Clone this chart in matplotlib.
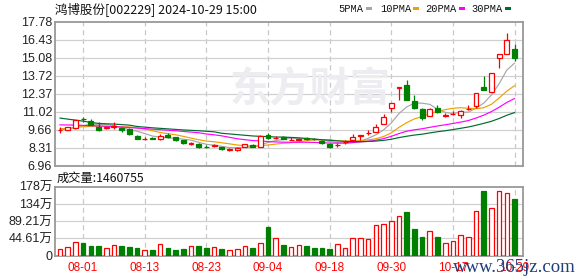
import numpy as np
import pandas as pd
import matplotlib
matplotlib.use("Agg")
import matplotlib.pyplot as plt
from matplotlib.patches import Rectangle

plt.rcParams['font.family'] = ['Liberation Sans', 'Noto Sans CJK SC', 'DejaVu Sans']

# ------------------ data ------------------ #
dates = ["07-29", "07-30", "07-31", "08-01", "08-02", "08-05", "08-06", "08-07", "08-08", "08-09",
         "08-12", "08-13", "08-14", "08-15", "08-16", "08-19", "08-20", "08-21", "08-22", "08-23",
         "08-26", "08-27", "08-28", "08-29", "08-30", "09-02", "09-03", "09-04", "09-05", "09-06",
         "09-09", "09-10", "09-11", "09-12", "09-13", "09-18", "09-19", "09-20", "09-23", "09-24",
         "09-25", "09-26", "09-27", "09-30", "10-08", "10-09", "10-10", "10-11", "10-14", "10-15",
         "10-16", "10-17", "10-18", "10-21", "10-22", "10-23", "10-24", "10-25", "10-28", "10-29"]

opens = [9.62, 9.66, 9.80, 10.50, 10.35, 9.90, 9.81, 9.90, 9.83, 9.73,
         9.23, 8.98, 9.03, 8.96, 9.30, 9.10, 8.91, 8.62, 8.62, 8.40,
         8.48, 8.36, 8.18, 8.19, 8.41, 8.56, 8.41, 9.28, 9.06, 9.13,
         8.92, 8.94, 9.02, 8.97, 8.81, 8.62, 8.52, 8.77, 8.93, 9.22,
         9.40, 9.51, 10.10, 11.30, 12.82, 13.03, 11.82, 11.24, 10.72, 11.27,
         10.72, 10.85, 10.80, 11.20, 11.44, 12.88, 12.53, 15.06, 15.36, 15.71]
highs = [9.85, 9.90, 10.40, 10.65, 10.50, 10.25, 9.95, 10.25, 9.85, 9.80,
         9.30, 9.10, 9.15, 9.33, 9.40, 9.12, 8.93, 8.75, 8.65, 8.50,
         8.62, 8.42, 8.30, 8.38, 8.63, 8.63, 9.25, 9.45, 9.20, 9.18,
         9.15, 9.08, 9.13, 9.08, 8.88, 8.68, 8.69, 8.93, 9.36, 9.28,
         9.66, 10.10, 10.85, 11.67, 12.86, 13.40, 12.26, 11.29, 11.29, 11.52,
         10.92, 11.09, 11.15, 11.54, 12.46, 13.70, 13.90, 15.31, 16.92, 16.13]
lows = [9.43, 9.62, 9.75, 10.25, 10.02, 9.60, 9.70, 9.73, 9.48, 9.30,
        8.98, 8.92, 8.95, 8.88, 9.05, 8.85, 8.62, 8.55, 8.33, 8.30,
        8.39, 8.15, 8.05, 8.12, 8.38, 8.36, 8.36, 8.98, 8.96, 8.96,
        8.92, 8.94, 8.88, 8.90, 8.60, 8.31, 8.36, 8.64, 8.93, 8.88,
        9.30, 9.51, 10.10, 11.04, 11.91, 11.89, 11.22, 10.37, 10.70, 10.92,
        10.62, 10.80, 10.55, 11.19, 11.34, 12.68, 12.53, 14.32, 15.36, 14.84]
closes = [9.68, 9.85, 10.38, 10.46, 10.05, 9.63, 9.87, 9.95, 9.63, 9.36,
          9.01, 9.01, 9.00, 9.20, 9.10, 8.88, 8.66, 8.65, 8.36, 8.38,
          8.52, 8.24, 8.20, 8.33, 8.61, 8.39, 9.23, 9.03, 9.08, 8.99,
          8.94, 8.96, 9.00, 8.95, 8.66, 8.41, 8.54, 8.79, 9.10, 9.28,
          9.43, 9.88, 10.63, 11.67, 12.84, 11.89, 11.34, 10.59, 11.22, 11.00,
          10.75, 10.87, 11.09, 11.25, 12.46, 12.68, 13.90, 15.31, 16.36, 15.06]

# volume in 万 (10k)
volumes = [15.6, 20.8, 33.8, 31.2, 24.2, 24.2, 18.2, 26.0, 24.2, 21.6,
           19.0, 13.0, 13.9, 28.6, 19.0, 13.9, 16.5, 24.2, 24.2, 19.0,
           20.8, 16.5, 13.0, 15.6, 23.4, 19.0, 31.2, 73.6, 44.2, 26.8,
           21.6, 26.0, 24.2, 19.0, 19.0, 16.5, 28.6, 18.2, 44.2, 45.0,
           42.4, 78.0, 80.5, 88.3, 101.3, 112.6, 68.4, 47.6, 62.4, 47.6,
           32.0, 36.4, 52.0, 46.8, 114.3, 167.0, 122.0, 167.0, 161.0, 146.08]

# MA values at the left edge (history before the window is not shown)
ma5_head = [9.68, 9.72, 9.85, 9.98]
ma10_head = [9.75, 9.78, 9.85, 9.90, 9.93, 9.93, 9.92, 9.91, 9.90]
ma20_head = [10.04, 10.03, 10.02, 10.00, 9.98, 9.96, 9.94, 9.91, 9.88, 9.84,
             9.80, 9.76, 9.72, 9.68, 9.64, 9.60, 9.55, 9.50, 9.45]
ma30_head = [10.55, 10.47, 10.40, 10.32, 10.22, 10.15, 10.12, 10.10, 10.06, 10.02,
             9.92, 9.87, 9.82, 9.78, 9.74, 9.70, 9.66, 9.63, 9.60, 9.56,
             9.52, 9.41, 9.36, 9.31, 9.26, 9.21, 9.18, 9.16, 9.13]

price_ticks = [6.96, 8.31, 9.66, 11.02, 12.37, 13.72, 15.08, 16.43, 17.78]
vol_ticks = [0, 44.61, 89.21, 133.82, 178.44]
vol_labels = ["0", "44.61万", "89.21万", "134万", "178万"]

title = "鸿博股份[002229] 2024-10-29 15:00"
vol_title = "成交量:1460755"

RED = "#ff0000"
GREEN = "#008000"
MA_COLORS = {"5PMA": "#a6a6a6", "10PMA": "#f0a000", "20PMA": "#ff00ff", "30PMA": "#006b2e"}

# ------------------ derived ------------------ #
o = np.array(opens); h = np.array(highs); l = np.array(lows); c = np.array(closes)
v = np.array(volumes)
x = np.arange(len(c))
up = c >= o

close_s = pd.Series(c)


def moving_avg(n, head):
    ma = close_s.rolling(n).mean().to_numpy()
    ma[:len(head)] = head
    return ma


mas = {"5PMA": moving_avg(5, ma5_head), "10PMA": moving_avg(10, ma10_head),
       "20PMA": moving_avg(20, ma20_head), "30PMA": moving_avg(30, ma30_head)}

# ------------------ layout (pixel based) ------------------ #
W, H = 578, 276
fig = plt.figure(figsize=(W / 100, H / 100), dpi=100)
fig.patch.set_facecolor("white")


def fx(px):
    return px / W


def fy(py):
    return 1 - py / H


left, right = 55, 523
ax = fig.add_axes([fx(left), fy(166), (right - left) / W, (166 - 21.5) / H])
axv = fig.add_axes([fx(left), fy(255.5), (right - left) / W, (255.5 - 186.7) / H])

xlim = (-0.65, 60.1)
label_idx = list(range(3, len(x), 8))

for a in (ax, axv):
    a.set_xlim(*xlim)
    for s in a.spines.values():
        s.set_color("#999999")
        s.set_linewidth(1.3)
    a.set_xticks([])
    for i in label_idx:
        a.axvline(i, color="#c8c8c8", lw=0.9, ls=(0, (4, 3)), zorder=0)

# ---- price panel ----
ax.set_ylim(price_ticks[0], price_ticks[-1])
ax.set_yticks(price_ticks)
ax.set_yticklabels([f"{t:.2f}" for t in price_ticks], fontsize=9, color="#222222")
ax.tick_params(axis="y", length=0, pad=2)
for t in price_ticks[1:-1]:
    ax.axhline(t, color="#d0d0d0", lw=0.9, zorder=0)

# faint site logo behind the candles
fig.text(fx(310), fy(90), "东方财富", fontsize=29, fontweight="bold", color="#ededf1",
         ha="center", va="center", family=["Noto Sans CJK SC"], zorder=0.5)

for name, ma in mas.items():
    ax.plot(x, ma, color=MA_COLORS[name], lw=0.85, zorder=2)

cols = np.where(up, RED, GREEN)
ax.vlines(x, l, h, colors=cols, lw=0.9, zorder=3)
body_bot = np.minimum(o, c)
body_h = np.maximum(np.abs(c - o), 0.005)
ax.bar(x[up], body_h[up], bottom=body_bot[up], width=0.64, facecolor="white",
       edgecolor=RED, lw=0.9, zorder=4)
ax.bar(x[~up], body_h[~up], bottom=body_bot[~up], width=0.64, facecolor=GREEN,
       edgecolor=GREEN, lw=0.9, zorder=4)
ax.patch.set_alpha(0)

# ---- volume panel ----
axv.set_ylim(vol_ticks[0], vol_ticks[-1])
axv.set_yticks(vol_ticks)
axv.set_yticklabels(vol_labels, fontsize=9, color="#222222")
axv.tick_params(axis="y", length=0, pad=2)
for t in vol_ticks[1:-1]:
    axv.axhline(t, color="#d0d0d0", lw=0.9, zorder=0)
axv.bar(x[up], v[up], width=0.6, facecolor="white", edgecolor=RED, lw=0.9, zorder=3)
axv.bar(x[~up], v[~up], width=0.6, facecolor=GREEN, edgecolor=GREEN, lw=0.9, zorder=3)

# date labels under the volume panel
for i in label_idx:
    xf = fx(left) + (i - xlim[0]) / (xlim[1] - xlim[0]) * (right - left) / W
    fig.text(xf, fy(268), dates[i], fontsize=8.5, color=RED, ha="center", va="center")

# ---- header texts ----
fig.text(fx(55), fy(9.5), title, fontsize=9, color="#111111", ha="left", va="center",
         family=["Noto Sans CJK SC", "DejaVu Sans"])
fig.text(fx(57), fy(178.5), vol_title, fontsize=8.8, color="#111111", ha="left", va="center",
         family=["Noto Sans CJK SC", "DejaVu Sans"])

leg_pos = {"5PMA": (338, 366), "10PMA": (380, 413), "20PMA": (425, 459), "30PMA": (471, 505)}
for name, (tx, mx) in leg_pos.items():
    fig.text(fx(tx), fy(8.5), name, fontsize=7.5, color="#111111", ha="left", va="center",
             family=["Liberation Mono"])
    fig.patches.append(Rectangle((fx(mx), fy(10.2)), 6 / W, 3 / H, transform=fig.transFigure,
                                 facecolor=MA_COLORS[name], edgecolor="none"))

# watermark bottom right
fig.text(fx(514), fy(267), "www.365jz.com", fontsize=13.5, color="#1f3f7a", ha="center",
         va="center", family=["Liberation Serif"], zorder=10)

fig.savefig("out.png", dpi=100)
